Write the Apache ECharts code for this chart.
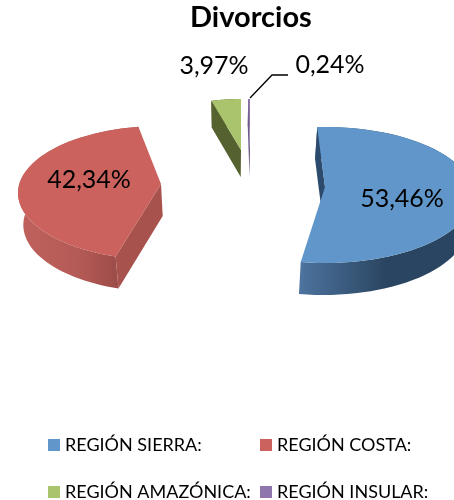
<!DOCTYPE html>
<html>
<head>
<meta charset="utf-8">
<style>html,body{margin:0;padding:0;background:#fff}#main{width:454px;height:500px}</style>
<script src="https://cdn.jsdelivr.net/npm/echarts@6/dist/echarts.min.js"></script>
</head>
<body>
<div id="main"></div>
<script>
var categories = ['REGIÓN SIERRA:', 'REGIÓN COSTA:', 'REGIÓN AMAZÓNICA:', 'REGIÓN INSULAR:'];
var values = [53.46, 42.34, 3.97, 0.24];
var colors = ['#6096c9', '#cb625d', '#a9c46c', '#8f76ad'];

// how each exploded slice sits in the fake 3d view
var slices = [
    {x: 325, y: 187, rx: 148, ry: 68, off: 8, depth: 32, start: -3, wall: '#2c4a6b',
        side: ['#4d749f', '#2a4561', '#2a4561'], label: [402, 199], legend: [48, 436]},
    {x: 161, y: 184, rx: 143, ry: 67, off: 9, depth: 32, start: 198.5, wall: '#a8524e',
        side: ['#c0625d', '#b45a56', '#8e4340'], label: [89, 180], legend: [260, 436]},
    {x: 241, y: 150, rx: 120, ry: 60, off: 9, depth: 27, start: -14.3, wall: '#55622f',
        side: ['#55622f', '#55622f', '#55622f'], label: [214, 66], legend: [48, 483]},
    {x: 250, y: 150, rx: 120, ry: 60, off: 9, depth: 27, start: -0.86, wall: '#6d5a88',
        side: ['#6d5a88', '#6d5a88', '#6d5a88'], label: [330, 65], legend: [260, 483]}
];

var total = values.reduce(function (a, b) { return a + b; }, 0);

// the underside shrinks a little towards the middle of the view
function under(px) {
    return 230 + (px - 230) * 0.975;
}

function renderSlice(index) {
    return function (params, api) {
        var s = slices[index];
        var sweep = api.value(0) / total * 360;
        var rim = [], lower = [];
        for (var i = 0; i <= 60; i++) {
            var a = (s.start + sweep * i / 60) * Math.PI / 180;
            var px = s.x + s.rx * Math.sin(a);
            var py = s.y + s.off - s.ry * Math.cos(a);
            rim.push([px, py]);
            lower.push([under(px), py + s.depth]);
        }
        var first = rim[0];
        var children = [
            {type: 'polygon', shape: {points: rim.concat(lower.slice().reverse())}, style: {
                fill: new echarts.graphic.LinearGradient(0, 0, 1, 0, [
                    {offset: 0, color: s.side[0]},
                    {offset: 0.5, color: s.side[1]},
                    {offset: 1, color: s.side[2]}
                ])
            }},
            {type: 'polygon', shape: {points: [[s.x, s.y], first, lower[0], [under(s.x), s.y + s.depth]]}, style: {fill: s.wall}},
            {type: 'polygon', shape: {points: [[s.x, s.y]].concat(rim)}, style: {fill: colors[index]}},
            {type: 'text', x: s.label[0], y: s.label[1], style: {
                text: api.value(0).toFixed(2).replace('.', ',') + '%',
                fontFamily: 'Lato', fontSize: 25, fill: '#000', align: 'center', verticalAlign: 'middle'
            }}
        ];
        if (index === 3) {
            children.push({type: 'polyline', shape: {points: [[250, 98], [272, 75], [288, 75]]}, style: {stroke: '#000', lineWidth: 1.3, fill: 'none'}});
        }
        return {type: 'group', children: children};
    };
}

var series = categories.map(function (name, i) {
    return {
        name: name,
        type: 'custom',
        coordinateSystem: 'none',
        itemStyle: {color: colors[i]},
        renderItem: renderSlice(i),
        data: [[values[i]]],
        silent: true
    };
});

var legends = categories.map(function (name, i) {
    return {
        left: slices[i].legend[0], top: slices[i].legend[1], padding: 0,
        itemWidth: 12, itemHeight: 12, icon: 'rect',
        textStyle: {fontFamily: 'Lato', fontSize: 18, color: '#000'},
        data: [name]
    };
});

var myChart = echarts.init(document.getElementById('main'));
var option = {
    animation: false,
    title: {
        text: 'Divorcios', left: 190, top: 3, padding: 0,
        textStyle: {fontFamily: 'Lato', fontWeight: 'bold', fontSize: 29, color: '#000'}
    },
    legend: legends,
    series: series
};
myChart.setOption(option);
</script>
</body>
</html>
